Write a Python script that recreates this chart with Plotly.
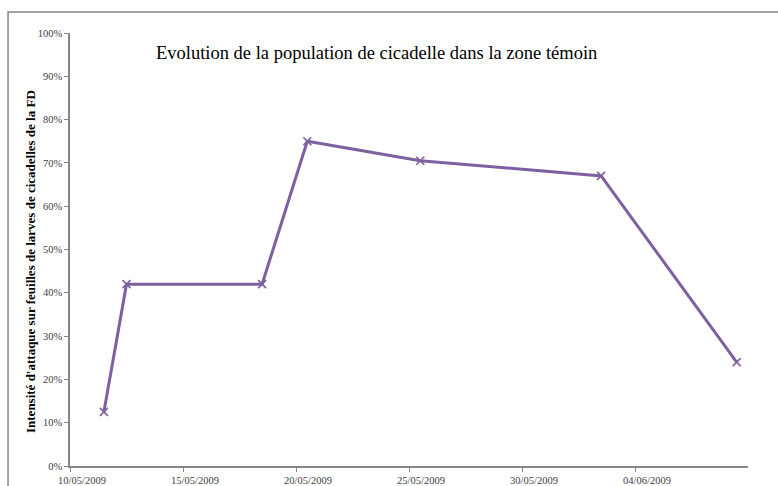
import pandas as pd
import plotly.graph_objects as go

dates = ["2009-05-11", "2009-05-12", "2009-05-18", "2009-05-20",
         "2009-05-25", "2009-06-02", "2009-06-08"]
intensite = [0.125, 0.42, 0.42, 0.75, 0.705, 0.67, 0.24]
tick_dates = ["2009-05-10", "2009-05-15", "2009-05-20", "2009-05-25",
              "2009-05-30", "2009-06-04"]
tick_labels = ["10/05/2009", "15/05/2009", "20/05/2009", "25/05/2009",
               "30/05/2009", "04/06/2009"]
y_ticks = [0, 0.1, 0.2, 0.3, 0.4, 0.5, 0.6, 0.7, 0.8, 0.9, 1.0]

# Excel date axis: points are centred within each day
x = pd.to_datetime(dates) + pd.Timedelta(hours=12)

purple = "#7D60A0"
axis_col = "#868686"
font_fam = "Liberation Serif, Times New Roman, serif"

fig = go.Figure()
fig.add_trace(go.Scatter(
    x=x, y=intensite, mode="lines+markers",
    line=dict(color=purple, width=3),
    marker=dict(symbol="x-thin", size=8, line=dict(color=purple, width=1.6)),
    showlegend=False,
))

fig.update_layout(
    width=778, height=486,
    margin=dict(l=70, r=30, t=33, b=20),
    paper_bgcolor="white", plot_bgcolor="white",
    font=dict(family=font_fam, color="#404040", size=10.5),
    xaxis=dict(
        range=["2009-05-10", "2009-06-09"],
        tickvals=pd.to_datetime(tick_dates), ticktext=tick_labels,
        showgrid=False, zeroline=False, automargin=False,
        showline=True, linecolor=axis_col, linewidth=1.5,
        ticks="outside", ticklen=4, tickcolor=axis_col, tickwidth=1,
        tickfont=dict(size=10.5, color="#404040"),
        ticklabelshift=12,
    ),
    yaxis=dict(
        range=[0, 1], tickvals=y_ticks, tickformat=".0%",
        showgrid=False, zeroline=False, automargin=False,
        showline=True, linecolor=axis_col, linewidth=1.5,
        ticks="outside", ticklen=4, tickcolor=axis_col, tickwidth=1,
        tickfont=dict(size=10.5, color="#404040"),
    ),
    annotations=[
        dict(
            text="Evolution de la population de cicadelle dans la zone témoin",
            xref="paper", yref="paper", x=(376 - 70) / 678, y=(466 - 53) / 433,
            xanchor="center", yanchor="middle", showarrow=False,
            font=dict(size=18.5, color="#000000", family=font_fam),
        ),
        dict(
            text="<b>Intensité d'attaque sur feuilles de larves de cicadelles de la FD</b>",
            xref="paper", yref="paper", x=(30 - 70) / 678, y=(466 - 262) / 433,
            xanchor="center", yanchor="middle", showarrow=False, textangle=-90,
            font=dict(size=13, color="#000000", family=font_fam),
        ),
    ],
    shapes=[dict(
        type="path", xref="paper", yref="paper",
        path="M -0.0914 -0.06 L -0.0914 1.0485 L 1.06 1.0485",
        line=dict(color=axis_col, width=1.5),
    )],
)

fig.write_html("out.html")
